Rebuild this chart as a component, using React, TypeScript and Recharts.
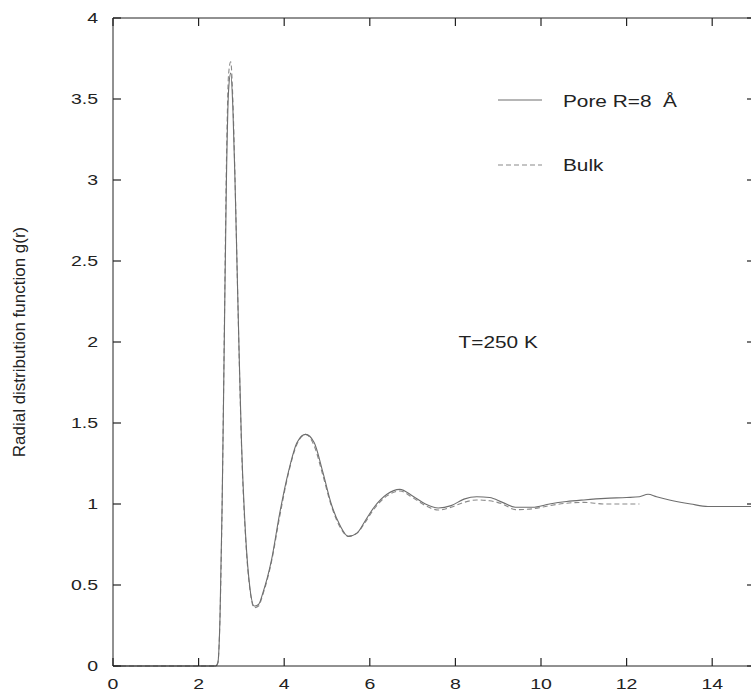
import React from 'react';
import { LineChart, Line, XAxis, YAxis, ReferenceDot } from 'recharts';

// g(r), r in Angstrom
const poreR = [0, 1, 2, 2.4, 2.45, 2.5, 2.55, 2.6, 2.65, 2.7, 2.75, 2.8, 2.85, 2.9, 2.95, 3.0, 3.1, 3.2, 3.3, 3.4, 3.5, 3.7, 3.9, 4.1, 4.3, 4.5, 4.7, 4.9, 5.1, 5.3, 5.5, 5.7, 5.9, 6.1, 6.4, 6.7, 7.0, 7.3, 7.6, 7.9, 8.2, 8.5, 8.8, 9.1, 9.4, 9.8, 10.2, 10.6, 11.0, 11.5, 12.0, 12.3, 12.5, 12.7, 13.0, 13.5, 13.9, 14.4, 15];
const poreG = [0, 0, 0, 0, 0.02, 0.3, 1.0, 2.0, 3.0, 3.55, 3.66, 3.45, 3.0, 2.45, 1.9, 1.4, 0.8, 0.48, 0.37, 0.38, 0.45, 0.65, 0.95, 1.2, 1.38, 1.43, 1.38, 1.2, 1.0, 0.87, 0.8, 0.82, 0.9, 0.98, 1.06, 1.09, 1.05, 1.0, 0.975, 0.99, 1.03, 1.045, 1.04, 1.01, 0.98, 0.98, 1.0, 1.015, 1.025, 1.035, 1.04, 1.045, 1.06, 1.045, 1.025, 1.0, 0.985, 0.985, 0.985];

const bulkR = [0, 1, 2, 2.4, 2.45, 2.5, 2.55, 2.6, 2.65, 2.7, 2.75, 2.8, 2.85, 2.9, 2.95, 3.0, 3.1, 3.2, 3.3, 3.4, 3.5, 3.7, 3.9, 4.1, 4.3, 4.5, 4.7, 4.9, 5.1, 5.3, 5.5, 5.7, 5.9, 6.1, 6.4, 6.7, 7.0, 7.3, 7.6, 7.9, 8.2, 8.5, 8.8, 9.1, 9.4, 9.8, 10.2, 10.6, 11.0, 11.5, 12.0, 12.3];
const bulkG = [0, 0, 0, 0, 0.02, 0.3, 1.0, 2.05, 3.1, 3.65, 3.73, 3.5, 3.02, 2.45, 1.88, 1.38, 0.78, 0.47, 0.36, 0.37, 0.44, 0.64, 0.93, 1.19, 1.37, 1.43, 1.36, 1.18, 0.99, 0.86, 0.8, 0.82, 0.89, 0.97, 1.05, 1.08, 1.04, 0.99, 0.963, 0.98, 1.01, 1.025, 1.02, 1.0, 0.965, 0.97, 0.99, 1.005, 1.01, 1.0, 1.0, 1.0];

const xTicks = [0, 2, 4, 6, 8, 10, 12, 14];
const yTicks = [0, 0.5, 1, 1.5, 2, 2.5, 3, 3.5, 4];

const pore = poreR.map((r, i) => ({ r, g: poreG[i] }));
const bulk = bulkR.map((r, i) => ({ r, g: bulkG[i] }));

const FONT = '"Liberation Sans", Arial, sans-serif';
const STRETCH = 1.3;
const TICK_LEN = 8;
const FRAME = '#222';

// gnuplot style ticks: short marks pointing into the plot, label outside
const BottomTick = (props: any) => {
  const { x, y, payload } = props;
  const ay = y - 12;
  return (
    <g>
      <path d={`M${x},${ay}V${ay - TICK_LEN}`} stroke={FRAME} strokeWidth={1.2} fill="none" />
      <g transform={`translate(${x},${y}) scale(${STRETCH},1)`}>
        <text textAnchor="middle" dy="0.71em" fontFamily={FONT} fontSize={15} fill="#222">
          {payload.value}
        </text>
      </g>
    </g>
  );
};

const TopTick = (props: any) => {
  const { x, y } = props;
  const ay = y + 2;
  return <path d={`M${x},${ay}V${ay + TICK_LEN}`} stroke={FRAME} strokeWidth={1.2} fill="none" />;
};

const LeftTick = (props: any) => {
  const { x, y, payload } = props;
  const ax = x + 15;
  return (
    <g>
      <path d={`M${ax},${y}H${ax + TICK_LEN}`} stroke={FRAME} strokeWidth={1.2} fill="none" />
      <g transform={`translate(${x},${y}) scale(${STRETCH},1)`}>
        <text textAnchor="end" dy="0.36em" fontFamily={FONT} fontSize={15} fill="#222">
          {payload.value}
        </text>
      </g>
    </g>
  );
};

const RightTick = (props: any) => {
  const { x, y } = props;
  const ax = x - 2;
  return <path d={`M${ax},${y}H${ax - TICK_LEN}`} stroke={FRAME} strokeWidth={1.2} fill="none" />;
};

const TempLabel = (props: any) => {
  const vb = props.viewBox || {};
  const cx = vb.x + (vb.width || 0) / 2;
  const cy = vb.y + (vb.height || 0) / 2;
  return (
    <g transform={`translate(${cx},${cy}) scale(${STRETCH},1)`}>
      <text textAnchor="middle" dy="0.36em" fontFamily={FONT} fontSize={16} fill="#222">
        T=250 K
      </text>
    </g>
  );
};

const legendText: React.CSSProperties = {
  position: 'absolute',
  left: 563,
  fontFamily: FONT,
  fontSize: 16,
  color: '#222',
  transform: `scaleX(${STRETCH})`,
  transformOrigin: 'left center',
  whiteSpace: 'pre',
  lineHeight: '16px',
};

const App: React.FC = () => {
  return (
    <div style={{ position: 'absolute', left: 0, top: 0, width: 751, height: 694, overflow: 'hidden', background: '#fff' }}>
      <LineChart width={760} height={694} margin={{ top: 17, right: 4, bottom: 0, left: 0 }}>
        <XAxis
          dataKey="r"
          type="number"
          domain={[0, 15]}
          ticks={xTicks}
          height={28}
          tickSize={0}
          tickMargin={12}
          tickLine={false}
          tick={<BottomTick />}
          axisLine={{ stroke: FRAME }}
          allowDuplicatedCategory={false}
        />
        <XAxis
          xAxisId="top"
          orientation="top"
          dataKey="r"
          type="number"
          domain={[0, 15]}
          ticks={xTicks}
          height={1}
          tickSize={0}
          tickMargin={2}
          tickLine={false}
          tick={<TopTick />}
          axisLine={{ stroke: FRAME }}
          allowDuplicatedCategory={false}
        />
        <YAxis
          type="number"
          domain={[0, 4]}
          ticks={yTicks}
          width={113}
          tickSize={0}
          tickMargin={15}
          tickLine={false}
          tick={<LeftTick />}
          axisLine={{ stroke: FRAME }}
          label={{
            value: 'Radial distribution function g(r)',
            angle: -90,
            position: 'insideLeft',
            offset: 19,
            style: { textAnchor: 'middle', fontFamily: FONT, fontSize: 17, fill: '#222' },
          }}
        />
        <YAxis
          yAxisId="right"
          orientation="right"
          type="number"
          domain={[0, 4]}
          ticks={yTicks}
          width={1}
          tickSize={0}
          tickMargin={2}
          tickLine={false}
          tick={<RightTick />}
          axisLine={{ stroke: FRAME }}
        />
        <Line
          data={bulk}
          dataKey="g"
          type="monotone"
          stroke="#8a8a8a"
          strokeWidth={1.1}
          strokeDasharray="5 3"
          dot={false}
          isAnimationActive={false}
        />
        {/* same scales as the bottom/left axes; ties the mirrored axes to a series so their ticks draw */}
        <Line
          data={pore}
          xAxisId="top"
          yAxisId="right"
          dataKey="g"
          type="monotone"
          stroke="#6e6e6e"
          strokeWidth={1.1}
          dot={false}
          isAnimationActive={false}
        />
        <ReferenceDot x={9} y={2} r={0} fill="none" stroke="none" label={<TempLabel />} />
      </LineChart>

      {/* legend, placed like the gnuplot key */}
      <svg style={{ position: 'absolute', left: 0, top: 0 }} width={751} height={694} pointerEvents="none">
        <line x1={498} x2={542} y1={100} y2={100} stroke="#6e6e6e" strokeWidth={1.1} />
        <line x1={498} x2={542} y1={165} y2={165} stroke="#8a8a8a" strokeWidth={1.1} strokeDasharray="5 3" />
      </svg>
      <div style={{ ...legendText, top: 94 }}>Pore R=8  Å</div>
      <div style={{ ...legendText, top: 158 }}>Bulk</div>
    </div>
  );
};

export default App;
